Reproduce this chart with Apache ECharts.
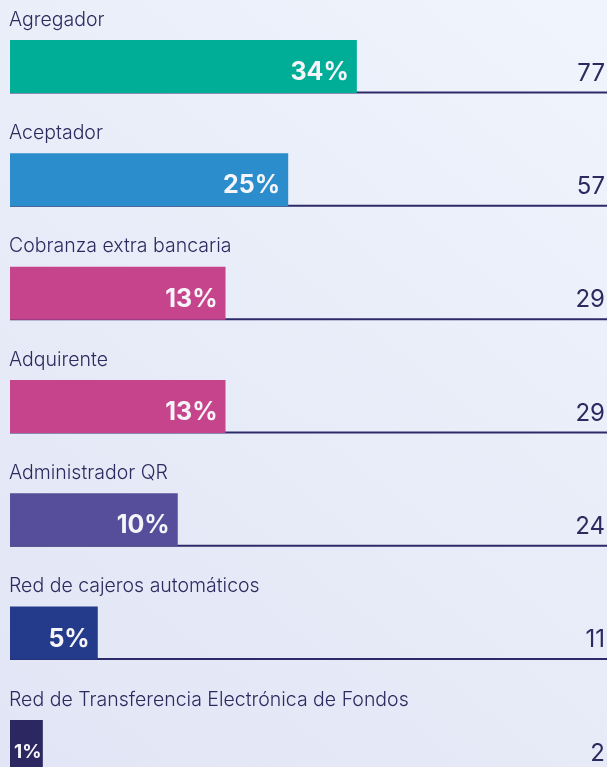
<!DOCTYPE html>
<html>
<head>
<meta charset="utf-8">
<script src="https://cdn.jsdelivr.net/npm/echarts@6/dist/echarts.min.js"></script>
<style>
  html, body { margin: 0; padding: 0; }
  #chart { width: 607px; height: 767px; }
</style>
</head>
<body>
<div id="chart"></div>
<script>
// categories, top to bottom
const categories = [
    "Agregador",
    "Aceptador",
    "Cobranza extra bancaria",
    "Adquirente",
    "Administrador QR",
    "Red de cajeros automáticos",
    "Red de Transferencia Electrónica de Fondos"
]
const counts = [77, 57, 29, 29, 24, 11, 2]
const percents = [34, 25, 13, 13, 10, 5, 1]
const barLength = [58.1, 46.6, 36.1, 36.1, 28.1, 14.7, 5.5]
const colors = ["#00ad97", "#2b8dcc", "#c6448b", "#c6448b", "#564e9a", "#243a8a", "#2c2760"]

const ink = "#2c2b5f"
const rowH = 113.33
const chartH = rowH * categories.length

let chart = echarts.init(document.getElementById('chart'), null, { renderer: 'canvas' })

chart.setOption({
    backgroundColor: {
        type: 'linear', x: 0, y: 1, x2: 1, y2: 0,
        colorStops: [
            { offset: 0, color: '#e1e5f5' },
            { offset: 1, color: '#f0f4fc' }
        ]
    },
    animation: false,
    grid: [
        { left: 10, right: 0, top: 9.8, height: chartH, outerBoundsMode: 'none' },
        { left: 10, right: 0, top: 35.8, height: chartH, outerBoundsMode: 'none' }
    ],
    xAxis: [
        { gridIndex: 0, type: 'value', min: 0, max: 100, show: false },
        { gridIndex: 1, type: 'value', min: 0, max: 100, show: false }
    ],
    yAxis: [
        { gridIndex: 0, type: 'category', inverse: true, data: categories, show: false },
        { gridIndex: 1, type: 'category', inverse: true, data: categories, show: false }
    ],
    series: [
        {
            // transparent track carrying the category names
            type: 'bar',
            xAxisIndex: 0, yAxisIndex: 0,
            barWidth: 53,
            barGap: '-100%',
            z: 1,
            silent: true,
            itemStyle: { color: 'rgba(0,0,0,0)' },
            data: categories.map(() => 100),
            label: {
                show: true,
                position: [-1, -20],
                align: 'left',
                verticalAlign: 'middle',
                fontFamily: 'Inter',
                fontWeight: 300,
                fontSize: 19.5,
                color: ink,
                formatter: p => categories[p.dataIndex]
            }
        },
        {
            type: 'bar',
            xAxisIndex: 0, yAxisIndex: 0,
            barWidth: 53,
            barGap: '-100%',
            z: 3,
            data: barLength.map((v, i) => {
                let item = { value: v, itemStyle: { color: colors[i] } }
                // very short bar: smaller label tucked inside from the left
                if (v < 10) item.label = { position: 'insideLeft', distance: 4, fontSize: 19 }
                return item
            }),
            label: {
                show: true,
                position: 'insideRight',
                distance: 8,
                offset: [0, 6],
                fontFamily: 'Inter',
                fontWeight: 'bold',
                fontSize: 25,
                color: '#f5f5f9',
                formatter: p => percents[p.dataIndex] + '%'
            }
        },
        {
            // thin baseline under each row, with the count on its right end
            type: 'bar',
            xAxisIndex: 1, yAxisIndex: 1,
            barWidth: 2,
            z: 2,
            silent: true,
            itemStyle: { color: '#2c2a68' },
            data: categories.map(() => 100),
            label: {
                show: true,
                position: ['100%', 0],
                align: 'right',
                verticalAlign: 'bottom',
                offset: [-2, -6],
                fontFamily: 'Inter',
                fontWeight: 400,
                fontSize: 24,
                color: ink,
                formatter: p => counts[p.dataIndex]
            }
        }
    ]
})
</script>
</body>
</html>
